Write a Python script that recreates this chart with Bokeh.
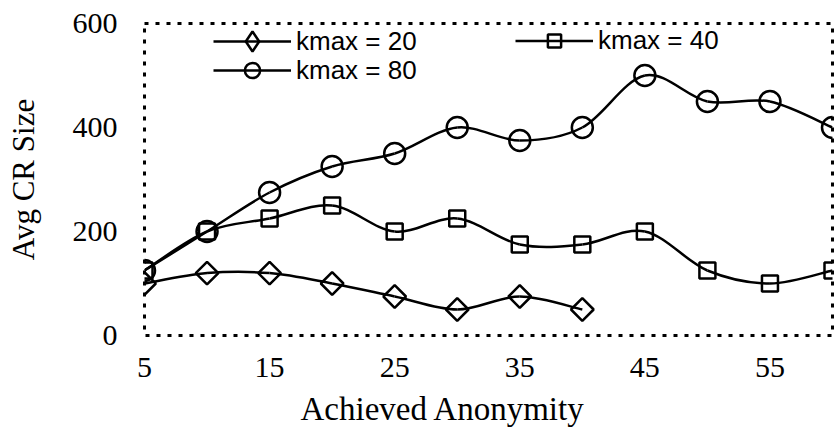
import math
from bokeh.plotting import figure
from bokeh.models import Legend, LegendItem, FixedTicker, ColumnDataSource, Title
from bokeh.embed import file_html
from bokeh.resources import INLINE

# ---- data ----
anonymity = [5, 10, 15, 20, 25, 30, 35, 40, 45, 50, 55, 60]
kmax20 = [100, 120, 120, 100, 75, 50, 75, 50]
kmax40 = [125, 200, 225, 250, 200, 225, 175, 175, 200, 125, 100, 125]
kmax80 = [125, 200, 275, 325, 350, 400, 375, 400, 500, 450, 450, 400]
x_ticks = [5, 15, 25, 35, 45, 55]
y_ticks = [0, 200, 400, 600]
labels = ["kmax = 20", "kmax = 40", "kmax = 80"]
x_title = "Achieved Anonymity"
y_title = "Avg CR Size"

SERIF = "Liberation Serif"
SANS = "Liberation Sans"

p = figure(width=834, height=436, output_backend="svg", toolbar_location=None,
           x_range=(5, 60), y_range=(0, 600),
           min_border_left=144, min_border_right=2, min_border_top=23, min_border_bottom=101)
p.frame_width = 688
p.frame_height = 312

p.xgrid.visible = False
p.ygrid.visible = False
p.outline_line_color = "black"
p.outline_line_width = 3
p.outline_line_dash = "4 7"
p.background_fill_color = "white"
p.border_fill_color = "white"

for ax in (p.xaxis[0], p.yaxis[0]):
    ax.axis_line_color = None
    ax.major_tick_line_color = None
    ax.minor_tick_line_color = None
    ax.major_tick_out = 0
    ax.major_tick_in = 0
    ax.major_label_text_font = SERIF
    ax.major_label_text_font_size = "30px"
    ax.major_label_text_color = "black"
    ax.axis_label_text_font = SERIF
    ax.axis_label_text_font_size = "31px"
    ax.axis_label_text_font_style = "normal"
    ax.axis_label_text_color = "black"

p.xaxis.ticker = FixedTicker(ticks=x_ticks)
p.yaxis.ticker = FixedTicker(ticks=y_ticks)
p.yaxis.axis_label = y_title
p.xaxis.major_label_standoff = 22
p.yaxis.major_label_standoff = 27
p.yaxis.axis_label_standoff = 29

p.add_layout(Title(text=x_title, align="left", offset=156, standoff=19,
                   text_font=SERIF, text_font_size="33px", text_font_style="normal",
                   text_color="black"), "below")


def smooth_segments(xs, ys):
    n = len(xs)
    d = dict(x0=[], y0=[], x1=[], y1=[], cx0=[], cy0=[], cx1=[], cy1=[])
    for i in range(n - 1):
        xm, ym = xs[max(i - 1, 0)], ys[max(i - 1, 0)]
        xp, yp = xs[min(i + 2, n - 1)], ys[min(i + 2, n - 1)]
        d["x0"].append(xs[i]); d["y0"].append(ys[i])
        d["x1"].append(xs[i + 1]); d["y1"].append(ys[i + 1])
        d["cx0"].append(xs[i] + (xs[i + 1] - xm) / 6.0)
        d["cy0"].append(ys[i] + (ys[i + 1] - ym) / 6.0)
        d["cx1"].append(xs[i + 1] - (xp - xs[i]) / 6.0)
        d["cy1"].append(ys[i + 1] - (yp - ys[i]) / 6.0)
    return ColumnDataSource(d)


# (x, y, plot marker, size, angle, legend marker)
series = [
    (anonymity[:len(kmax20)], kmax20, "square", 16, math.pi / 4, "diamond"),
    (anonymity[:len(kmax40)], kmax40, "square", 16, 0.0, "square"),
    (anonymity[:len(kmax80)], kmax80, "circle", 21, 0.0, "circle"),
]

items = []
for (xs, ys, marker, size, ang, lmarker), lab in zip(series, labels):
    src = smooth_segments(xs, ys)
    br = p.bezier(x0="x0", y0="y0", x1="x1", y1="y1", cx0="cx0", cy0="cy0",
                  cx1="cx1", cy1="cy1", source=src, line_color="black", line_width=2.5)
    mr = p.scatter(xs, ys, marker=marker, size=size, angle=ang, fill_color=None,
                   line_color="black", line_width=2.5)
    if lmarker != marker:
        lr = p.scatter(xs, ys, marker=lmarker, size=size, fill_color=None,
                       line_color="black", line_width=2.5, visible=False)
        items.append(LegendItem(label=lab, renderers=[br, lr]))
    else:
        items.append(LegendItem(label=lab, renderers=[br, mr]))


def make_legend(its, loc, gh):
    return Legend(items=its, location=loc, orientation="vertical",
                  label_text_font=SANS, label_text_font_size="26px",
                  label_text_color="black", glyph_width=78, glyph_height=gh,
                  label_height=gh, label_standoff=5, spacing=0, padding=0,
                  margin=0, border_line_color=None, background_fill_alpha=0,
                  inactive_fill_alpha=0)


p.add_layout(make_legend([items[0]], (69, 269), 50), "center")
p.add_layout(make_legend([items[2]], (69, 246), 38), "center")
p.add_layout(make_legend([items[1]], (371, 278), 33), "center")

open("out.html", "w").write(file_html(p, INLINE))
